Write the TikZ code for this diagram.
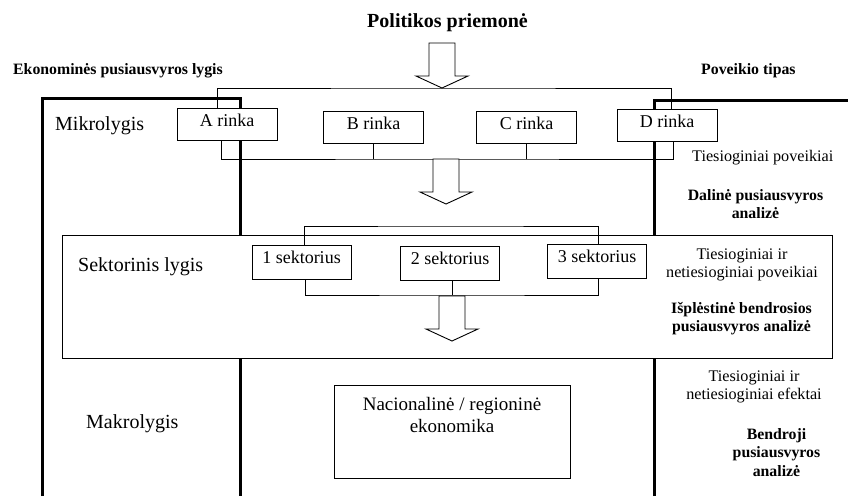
\documentclass[tikz,border=0pt]{standalone}
\usepackage{fontspec}
\setmainfont{Liberation Serif}
\usetikzlibrary{positioning}

\tikzset{
  pics/bigarrow/.style={code={
    \draw[line width=0.9pt, fill=white] (-13,-45) -- (13,-45) -- (13,-12) -- (26,-12) -- (0,0) -- (-26,-12) -- (-13,-12) -- cycle;
  }}
}

\begin{document}
\begin{tikzpicture}[x=1pt, y=-1pt,
    ln/.style={line width=0.9pt},
    frame/.style={line width=3pt},
    rinka/.style={draw, ln, fill=white, minimum width=100pt, inner xsep=0pt, inner ysep=4pt, text height=14pt, text depth=10pt, font=\fontsize{18}{20}\selectfont},
    sekt/.style={rinka, minimum width=99pt, text depth=12pt},
    lvl/.style={anchor=base west, inner sep=0pt, font=\fontsize{20}{22}\selectfont},
    hdr/.style={anchor=base west, inner sep=0pt, font=\fontsize{15.8}{18}\selectfont\bfseries},
    eff/.style={anchor=north, inner sep=0pt, align=center, font=\fontsize{16.2}{18}\selectfont},
    an/.style={eff, font=\fontsize{15.8}{18.5}\selectfont\bfseries}]
    \useasboundingbox (0,0) rectangle (848,496);
    % Frames of the levels
    \draw[frame] (42,496) |- (240,98) -- (240,496);
    \draw[frame] (654,496) |- (848,100);
    % Headings
    \node[font=\fontsize{20}{22}\selectfont\bfseries, anchor=base, inner sep=0pt] (title) at (447.5,27) {Politikos priemonė};
    \node[hdr] (lvlhdr) at (13,74) {Ekonominės pusiausvyros lygis};
    \node[hdr] (typehdr) at (701,74) {Poveikio tipas};
    % Micro level
    \node[lvl] (mikro) at (55,130) {Mikrolygis};
    \coordinate (mt) at (442,88);
    \coordinate (mb) at (447,159);
    \node[rinka] (rA) at (227,124) {A rinka};
    \node[rinka] (rB) at (373.5,127) {B rinka};
    \node[rinka] (rC) at (526.5,127) {C rinka};
    \node[rinka] (rD) at (667,125) {D rinka};
    \draw[ln] ([xshift=-10pt]rA.north) |- (mt) -| ([xshift=4pt]rD.north);
    \draw[ln] ([xshift=-6pt]rA.south) |- (mb) -| ([xshift=6pt]rD.south);
    \draw[ln] (rB.south) -- (rB.south |- mb);
    \draw[ln] (rC.south) -- (rC.south |- mb);
    \pic at (mt) {bigarrow};
    \pic at (446,204) {bigarrow};
    % Sector level
    \node[draw, ln, fill=white, minimum width=770pt, minimum height=123pt] (sektbox) at (447,296.5) {};
    \node[lvl] (sekto) at (78,271) {Sektorinis lygis};
    \coordinate (st) at (450,226);
    \coordinate (sb) at (452,295);
    \node[sekt] (s1) at (301.5,262) {1 sektorius};
    \node[sekt] (s2) at (450,263.5) {2 sektorius};
    \node[sekt] (s3) at (597,261.5) {3 sektorius};
    \draw[ln] ([xshift=2.5pt]s1.north) |- (st) -| ([xshift=1pt]s3.north);
    \draw[ln] ([xshift=3.5pt]s1.south) |- (sb) -| ([xshift=1pt]s3.south);
    \draw[ln] (s2.south -| sb) -- (sb);
    \pic at (452,341) {bigarrow};
    % Macro level
    \node[lvl] (makro) at (86,428) {Makrolygis};
    \node[draw, ln, minimum width=236pt, minimum height=93pt,
        label={[anchor=north, inner sep=0pt, yshift=-13pt, align=center, font=\fontsize{19}{22}\selectfont]north:Nacionalinė / regioninė\\ekonomika}] (nac) at (452,431.5) {};
    % Types of effects
    \node[eff, anchor=base west] (eff1) at (692,161) {Tiesioginiai poveikiai};
    \node[an] (an1) at (755.5,189) {Dalinė pusiausvyros\\analizė};
    \node[eff] (eff2) at (742,249) {Tiesioginiai ir\\netiesioginiai poveikiai};
    \node[an] (an2) at (741.5,302) {Išplėstinė bendrosios\\pusiausvyros analizė};
    \node[eff] (eff3) at (754,371) {Tiesioginiai ir\\netiesioginiai efektai};
    \node[an] (an3) at (776.5,428) {Bendroji\\pusiausvyros\\analizė};
\end{tikzpicture}
\end{document}
